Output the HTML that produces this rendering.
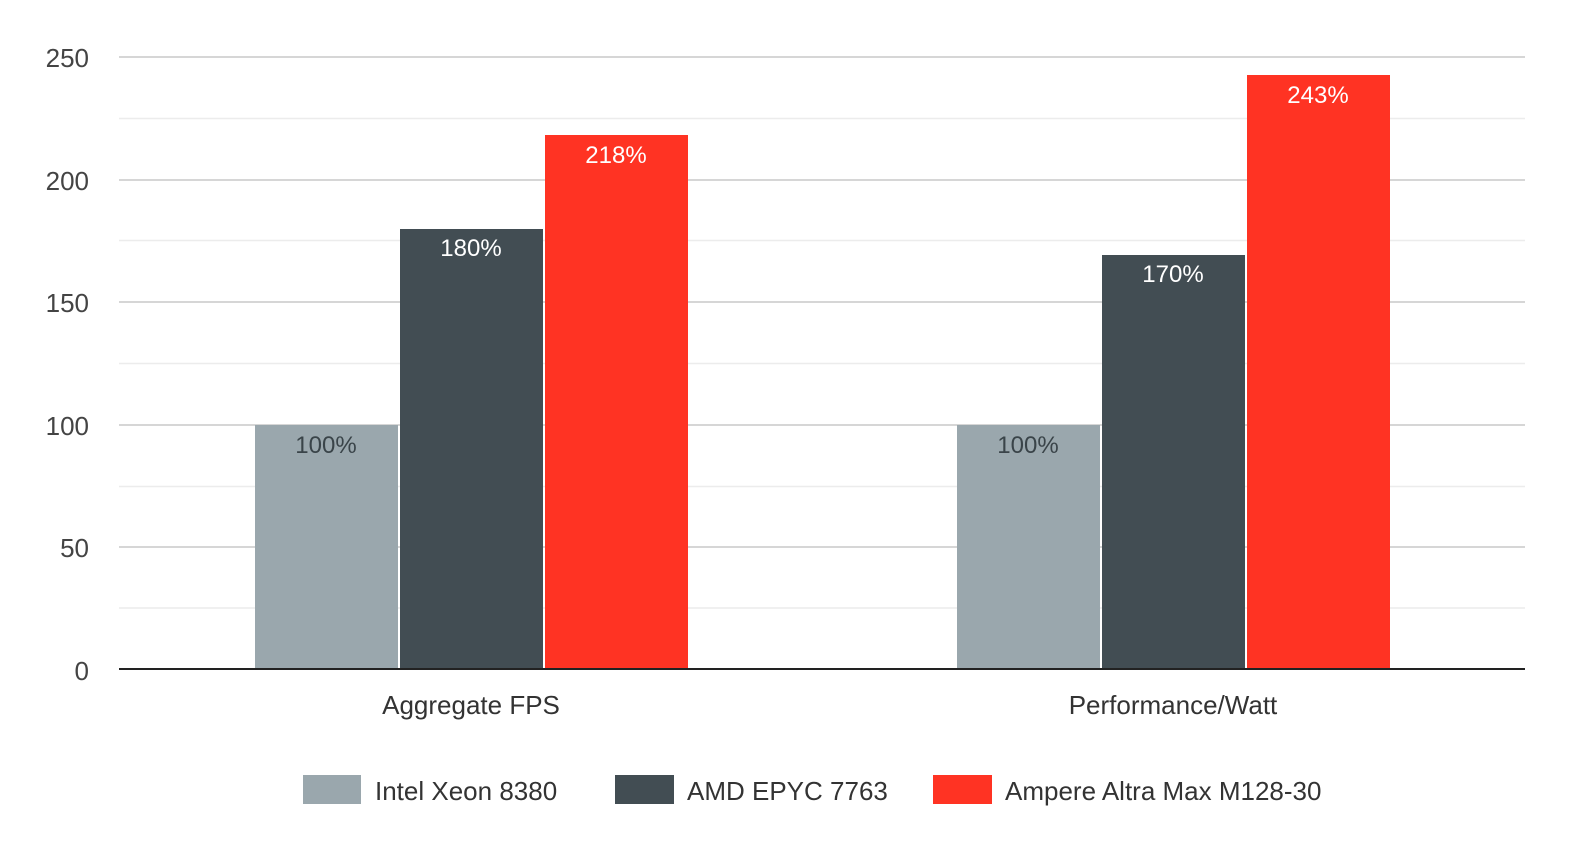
<!DOCTYPE html>
<html><head><meta charset="utf-8"><style>
body{margin:0;background:#fff;}
svg{display:block;font-family:"Liberation Sans",sans-serif;}
</style></head><body>
<svg width="1576" height="845" viewBox="0 0 1576 845">
<g stroke="#ececec" stroke-width="1.5">
<line x1="119" x2="1525" y1="118.5" y2="118.5"/><line x1="119" x2="1525" y1="240.5" y2="240.5"/>
<line x1="119" x2="1525" y1="363.5" y2="363.5"/><line x1="119" x2="1525" y1="486.5" y2="486.5"/>
<line x1="119" x2="1525" y1="608" y2="608"/>
</g>
<g stroke="#c9c9c9" stroke-width="1.5">
<line x1="119" x2="1525" y1="57" y2="57"/><line x1="119" x2="1525" y1="180" y2="180"/>
<line x1="119" x2="1525" y1="302" y2="302"/><line x1="119" x2="1525" y1="425" y2="425"/>
<line x1="119" x2="1525" y1="547" y2="547"/>
</g>
<g font-size="26" fill="#444" text-anchor="end">
<text x="89" y="67">250</text><text x="89" y="190">200</text><text x="89" y="312">150</text>
<text x="89" y="435">100</text><text x="89" y="557">50</text><text x="89" y="680">0</text>
</g>
<rect x="255" y="425" width="143" height="244" fill="#9aa7ad"/>
<rect x="400" y="229" width="143" height="440" fill="#424d53"/>
<rect x="545" y="135" width="143" height="534" fill="#ff3323"/>
<rect x="957" y="425" width="143" height="244" fill="#9aa7ad"/>
<rect x="1102" y="255" width="143" height="414" fill="#424d53"/>
<rect x="1247" y="75" width="143" height="594" fill="#ff3323"/>
<line x1="119" x2="1525" y1="669" y2="669" stroke="#222" stroke-width="2"/>
<g font-size="24" text-anchor="middle">
<text x="326" y="453" fill="#3a4449">100%</text>
<text x="471" y="256" fill="#fff">180%</text>
<text x="616" y="163" fill="#fff">218%</text>
<text x="1028" y="453" fill="#3a4449">100%</text>
<text x="1173" y="282" fill="#fff">170%</text>
<text x="1318" y="103" fill="#fff">243%</text>
</g>
<g font-size="26" fill="#333" text-anchor="middle">
<text x="471" y="714">Aggregate FPS</text>
<text x="1173" y="714">Performance/Watt</text>
</g>
<rect x="303" y="775" width="58" height="29" fill="#9aa7ad"/>
<rect x="615" y="775" width="59" height="29" fill="#424d53"/>
<rect x="933" y="775" width="59" height="29" fill="#ff3323"/>
<g font-size="26" fill="#333">
<text x="375" y="800">Intel Xeon 8380</text>
<text x="687" y="800">AMD EPYC 7763</text>
<text x="1005" y="800">Ampere Altra Max M128-30</text>
</g>
</svg>
</body></html>
